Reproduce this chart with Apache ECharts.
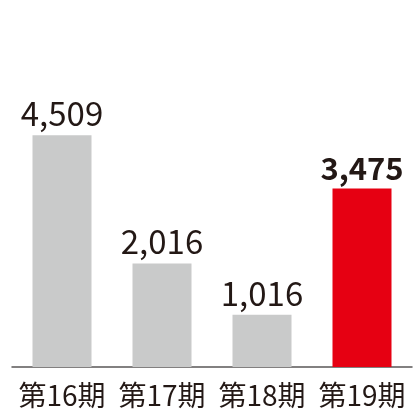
<!DOCTYPE html>
<html>
<head>
<meta charset="utf-8">
<script src="https://cdn.jsdelivr.net/npm/echarts@6/dist/echarts.min.js"></script>
<style>
  html, body { margin: 0; padding: 0; background: #fff; }
  #chart { width: 420px; height: 420px; }
</style>
</head>
<body>
<div id="chart"></div>
<script>
    // 期ごとの値
    const categories = ['第16期', '第17期', '第18期', '第19期'];
    const values = [4509, 2016, 1016, 3475];
    const barColors = ['#c9caca', '#c9caca', '#c9caca', '#e60012'];
    const highlightIndex = 3;

    const textColor = '#231815';
    const fontFamily = "'Noto Sans CJK JP', sans-serif";

    let chart = echarts.init(document.getElementById('chart'));
    let option = {
        animation: false,
        grid: {
            left: 12,
            right: 8,
            top: 110,
            bottom: 53
        },
        xAxis: {
            type: 'category',
            data: categories,
            axisLine: {
                lineStyle: { color: '#595757', width: 1.5 }
            },
            axisTick: { show: false },
            axisLabel: {
                interval: 0,
                color: textColor,
                fontSize: 28,
                fontFamily: fontFamily,
                margin: 14
            }
        },
        yAxis: {
            type: 'value',
            min: 0,
            max: 5000,
            show: false,
            splitLine: { show: false }
        },
        series: [{
            type: 'bar',
            barWidth: 59,
            data: values.map((v, i) => ({
                value: v,
                itemStyle: { color: barColors[i] },
                label: {
                    fontWeight: i === highlightIndex ? 'bold' : 'normal',
                    fontSize: i === highlightIndex ? 31 : 33
                }
            })),
            label: {
                show: true,
                position: 'top',
                distance: 5,
                color: textColor,
                fontFamily: fontFamily,
                formatter: p => p.value.toLocaleString('en-US')
            }
        }]
    };
    chart.setOption(option);
</script>
</body>
</html>
